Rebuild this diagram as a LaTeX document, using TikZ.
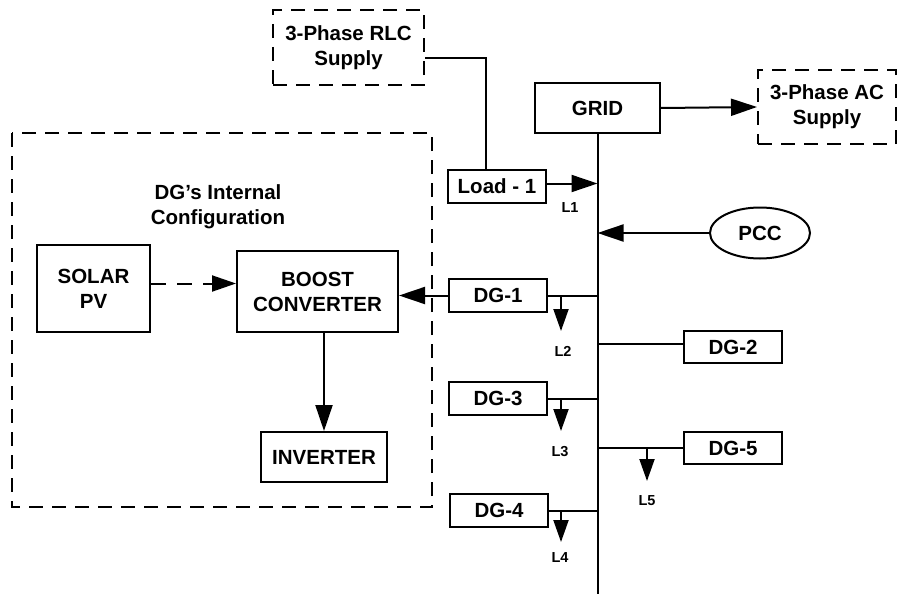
\documentclass[tikz,border=0pt]{standalone}
\usepackage{fontspec}
\setmainfont{Liberation Sans}
\usetikzlibrary{arrows.meta,shapes.geometric}
\begin{document}
\begin{tikzpicture}[x=1pt,y=-1pt,
  box/.style={draw,line width=2pt,inner sep=0pt,align=center,font=\bfseries\fontsize{20.5}{25}\selectfont},
  dbox/.style={box,dash pattern=on 14pt off 9pt},
  lab/.style={font=\bfseries\fontsize{14.5}{16}\selectfont,inner sep=0pt},
  ln/.style={line width=2pt},
  arr/.style={line width=2pt,-{Triangle[length=26pt,width=17pt]}},
  sarr/.style={line width=2pt,-{Triangle[length=22pt,width=15pt]}}]
\useasboundingbox (0,0) rectangle (899,594);
% dashed configuration box
\draw[line width=2pt,dash pattern=on 14pt off 9pt] (12,133) rectangle (432,507);
\node[align=center,font=\bfseries\fontsize{20.5}{25}\selectfont] (title) at (218,207) {DG’s Internal\\Configuration};
% nodes
\node[dbox,minimum width=151pt,minimum height=75pt] (RLC) at (348.5,47.5) {3-Phase RLC\\Supply};
\node[box,minimum width=125pt,minimum height=50pt] (GRID) at (597.5,108) {GRID};
\node[dbox,minimum width=138pt,minimum height=74pt] (AC) at (827,107) {3-Phase AC\\Supply};
\node[box,minimum width=98pt,minimum height=33pt] (L1box) at (497,186.5) {Load - 1};
\node[draw,ellipse,line width=2pt,inner sep=0pt,minimum width=100pt,minimum height=51pt,font=\bfseries\fontsize{20.5}{25}\selectfont] (PCC) at (760,233) {PCC};
\node[box,minimum width=98pt,minimum height=33pt] (DG1) at (498,295.5) {DG-1};
\node[box,minimum width=98pt,minimum height=32pt] (DG2) at (733,347) {DG-2};
\node[box,minimum width=98pt,minimum height=33pt] (DG3) at (498,398.5) {DG-3};
\node[box,minimum width=98pt,minimum height=32pt] (DG5) at (733,448) {DG-5};
\node[box,minimum width=98pt,minimum height=33pt] (DG4) at (499,510.5) {DG-4};
\node[box,minimum width=113pt,minimum height=87pt] (PV) at (93.5,288.5) {SOLAR\\PV};
\node[box,minimum width=161pt,minimum height=81pt] (BOOST) at (317.5,291.5) {BOOST\\CONVERTER};
\node[box,minimum width=126pt,minimum height=50pt] (INV) at (324,457) {INVERTER};
% bus
\coordinate (busB) at (598,594);
\draw[ln] (GRID.south) -- (GRID.south |- busB);
% connectors
\draw[ln] ([yshift=-10.5pt]RLC.east) -| ([xshift=-11pt]L1box.north);
\draw[arr] (GRID.east) -- (AC.west);
\draw[arr] ([yshift=3pt]L1box.east) -- ([yshift=3pt]L1box.east -| GRID.south);
\draw[arr] (PCC.west) -- (PCC.west -| GRID.south);
\draw[ln] (DG1.east) -- (DG1.east -| GRID.south);
\draw[arr] (DG1.west) -- (DG1.west -| BOOST.east);
\draw[ln] ([yshift=3pt]DG2.west) -- ([yshift=3pt]DG2.west -| GRID.south);
\draw[ln] (DG3.east) -- (DG3.east -| GRID.south);
\draw[ln] (DG5.west) -- (DG5.west -| GRID.south);
\draw[ln] (DG4.east) -- (DG4.east -| GRID.south);
\draw[line width=2pt,dash pattern=on 15pt off 11pt,-{Triangle[length=24pt,width=16pt]}] ([yshift=5pt]PV.east) -- ([yshift=5pt]PV.east -| BOOST.west);
\draw[arr] (BOOST.south -| INV.north) -- (INV.north);
% loads
\coordinate (l2) at (561,331);
\coordinate (l3) at (561,431);
\coordinate (l5) at (647,481);
\coordinate (l4) at (561,542);
\draw[sarr] (l2 |- DG1.east) -- (l2);
\draw[sarr] (l3 |- DG3.east) -- (l3);
\draw[sarr] (l5 |- DG5.west) -- (l5);
\draw[sarr] (l4 |- DG4.east) -- (l4);
\node[lab] (L1) at (570,208) {L1};
\node[lab] (L2) at (563,351) {L2};
\node[lab] (L3) at (560,452) {L3};
\node[lab] (L5) at (647,501) {L5};
\node[lab] (L4) at (560,558) {L4};
\end{tikzpicture}
\end{document}
